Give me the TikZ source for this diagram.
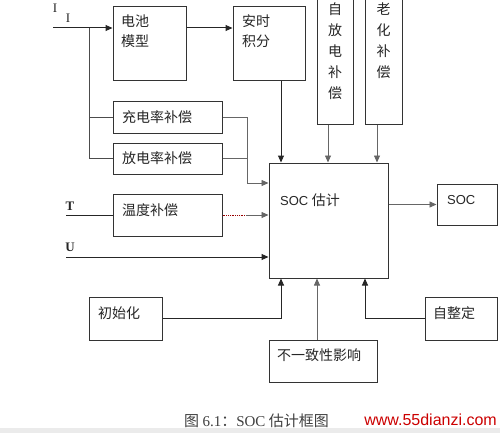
\documentclass[tikz,border=0pt]{standalone}
\usepackage{fontspec}
\setmainfont{Liberation Serif}
\setsansfont{Liberation Sans}
\newfontfamily\cjk{Noto Sans CJK SC}
\usetikzlibrary{arrows.meta}
\begin{document}
\begin{tikzpicture}[x=1pt,y=-1pt,
  box/.style={draw=black!80, line width=1pt, inner sep=0pt},
  txt/.style={font=\cjk\fontsize{14}{20}\selectfont, inner sep=0pt, anchor=west, align=left, text=black!85},
  vtxt/.style={font=\cjk\fontsize{14}{21}\selectfont, inner sep=0pt, anchor=north, align=center, text=black!85},
  lin/.style={line width=1pt, black!85},
  thin/.style={line width=0.8pt, black!60},
  arr/.style={lin, -{Triangle[length=7pt,width=6pt]}},
  arrt/.style={thin, -{Triangle[length=7pt,width=6pt]}},
  lab/.style={font=\fontsize{13}{13}\selectfont, inner sep=0pt, text=black!85}]
\useasboundingbox (0,0) rectangle (500,433);
\fill[white] (0,0) rectangle (500,433);
\fill[black!8] (0,428) rectangle (500,433);

% boxes
\node[box, minimum width=73pt, minimum height=74pt] (bm) at (149.5,44) {};
\node[txt, anchor=north west] (bmt) at (121,15) {电池\\模型};
\node[box, minimum width=72pt, minimum height=74pt] (ah) at (269,44) {};
\node[txt, anchor=north west] (aht) at (242,15) {安时\\积分};
\node[box, minimum width=36pt, minimum height=127pt] (zf) at (335,60.5) {};
\node[vtxt] (zft) at (335,3) {自\\放\\电\\补\\偿};
\node[box, minimum width=37pt, minimum height=127pt] (lh) at (383.5,60.5) {};
\node[vtxt] (lht) at (383.5,3) {老\\化\\补\\偿};
\node[box, minimum width=109pt, minimum height=31pt] (cd) at (167.5,117.5) {};
\node[txt] (cdt) at (122,117) {充电率补偿};
\node[box, minimum width=109pt, minimum height=31pt] (fd) at (167.5,158.5) {};
\node[txt] (fdt) at (122,158) {放电率补偿};
\node[box, minimum width=109pt, minimum height=42pt] (wd) at (167.5,215) {};
\node[txt] (wdt) at (122,210) {温度补偿};
\node[box, minimum width=119pt, minimum height=115pt] (soc) at (328.5,220.5) {};
\node[txt] (soct) at (280,200) {\sffamily\fontsize{13}{13}\selectfont SOC \cjk\fontsize{14}{14}\selectfont 估计};
\node[box, minimum width=60pt, minimum height=41pt] (out) at (467,204.5) {};
\node[txt] (outt) at (447,200) {\sffamily\fontsize{13}{13}\selectfont SOC};
\node[box, minimum width=73pt, minimum height=43pt] (init) at (125.5,318.5) {};
\node[txt] (initt) at (98,313) {初始化};
\node[box, minimum width=108pt, minimum height=42pt] (bz) at (323,361) {};
\node[txt] (bzt) at (277,355) {不一致性影响};
\node[box, minimum width=72pt, minimum height=43pt] (zzd) at (461,318.5) {};
\node[txt] (zzdt) at (433,313) {自整定};

% labels
\node[lab] (li1) at (55,8) {I};
\node[lab] (li2) at (68,18) {I};
\node[lab, font=\bfseries\fontsize{13}{13}\selectfont] (lt) at (70,206) {T};
\node[lab, font=\bfseries\fontsize{13}{13}\selectfont] (lu) at (70,247) {U};

% coordinates
\coordinate (in1) at (53,28);
\coordinate (br) at (89,28);
\coordinate (jx) at (247,183);
\coordinate (tin) at (66,215);
\coordinate (uin) at (66,257);
\coordinate (rd) at (246,215);

% connectors
\draw[arr] (in1) -- (in1 -| bm.west);
\draw[arr] (bm.east |- in1) -- (ah.west |- in1);
\draw[lin, black!70] (br) |- (fd.west);
\draw[lin, black!70] (br) |- (cd.west);
\draw[thin] (cd.east) -| (jx);
\draw[thin] (fd.east) -- (fd.east -| jx);
\draw[arrt] (jx) -- (jx -| soc.west);
\draw[lin] (tin) -- (wd.west);
\draw[red!60!black, line width=0.8pt, densely dotted] (wd.east) -- (rd);
\draw[arrt] (rd) -- (rd -| soc.west);
\draw[arr] (uin) -- (uin -| soc.west);
\draw[arr] ([xshift=12pt]ah.south) -- ([xshift=12pt]ah.south |- soc.north);
\draw[arrt] ([xshift=-7pt]zf.south) -- ([xshift=-7pt]zf.south |- soc.north);
\draw[arrt] ([xshift=-6.5pt]lh.south) -- ([xshift=-6.5pt]lh.south |- soc.north);
\draw[arrt] (soc.east |- out.west) -- (out.west);
\draw[arr] (init.east) -| ([xshift=-47.5pt]soc.south);
\draw[arrt] ([xshift=-6pt]bz.north) -- ([xshift=-6pt]bz.north |- soc.south);
\draw[arr] (zzd.west) -| ([xshift=36.5pt]soc.south);

% caption
\node[lab, anchor=west, font=\cjk\fontsize{15}{15}\selectfont, text=black!75] (cap) at (184,421) {图 {\rmfamily 6.1}：{\rmfamily SOC} 估计框图};
\node[lab, anchor=east, font=\sffamily\fontsize{16}{16}\selectfont, text=red!80!black] (wm) at (497,420) {www.55dianzi.com};
\end{tikzpicture}
\end{document}
